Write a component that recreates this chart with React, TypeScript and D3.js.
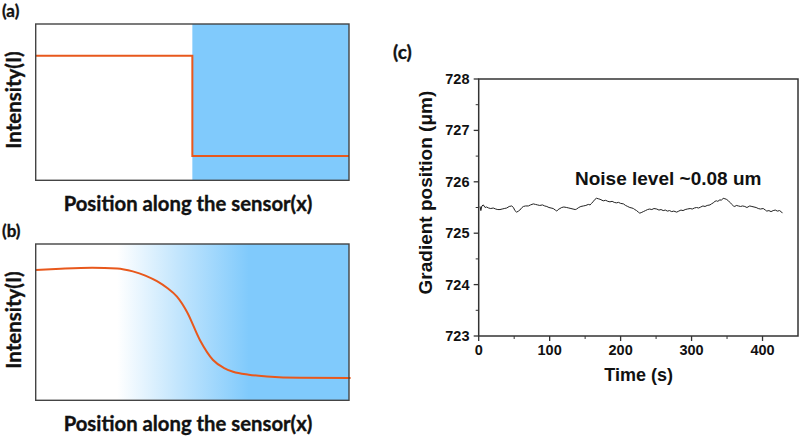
import React from "react";
import * as d3 from "d3";

// schematic panels: position 0..100 along sensor, intensity 0..100
const stepPos = [0, 50, 100];
const stepIntensity = [79.7, 15.5, 15.5];
const blueZoneA = [50, 100];

const curvePos = [0, 8, 18, 26, 31, 35, 38.7, 42, 45.1, 48.3, 52.4, 56.6, 60, 63, 68, 73.8, 84.4, 100.5];
const curveIntensity = [83.4, 84.2, 84.8, 84.4, 82.5, 79.8, 76.2, 71.8, 66.3, 56.5, 38.6, 25.8, 20.8, 18.3, 16.4, 15.3, 14.4, 14.2];
const gradientStops = [26, 68];

// panel (c) measured noise
const timeTicks = [0, 100, 200, 300, 400];
const posTicks = [723, 724, 725, 726, 727, 728];
const noiseTime = [2, 3, 4.5, 6.5, 9, 11, 14, 17, 20.5, 24, 27, 30, 33, 36, 39.5, 43, 46.5, 49, 51, 53.5, 56, 58, 61, 63, 66, 70, 73, 77, 80, 83, 86, 90, 93, 96, 99, 102, 105, 108, 110, 112, 114.5, 117, 120, 124, 127, 130, 133, 136, 138, 141, 144, 147.5, 151, 154.5, 157, 159, 161, 164, 166, 168.5, 171, 175.5, 179, 182, 185, 188, 191, 194, 197, 200, 204, 207, 210, 213, 216, 218, 220, 222.5, 225, 227, 229, 232, 235, 238, 241, 244, 247, 251, 254, 257, 260, 263, 266, 269, 272, 275, 279, 282, 285, 288, 291, 294, 298, 301, 304, 307, 310, 313, 316, 319, 322, 326, 328, 330.5, 333, 335, 337, 340, 342, 344.5, 347, 349, 352, 354, 356, 359, 361, 363, 366, 369, 372, 375, 378, 382, 385, 388, 391, 394, 397, 401, 404, 406, 409, 412, 415, 418, 421, 424, 427, 428];
const noiseValue = [725.52, 725.44, 725.53, 725.55, 725.5, 725.51, 725.49, 725.48, 725.49, 725.47, 725.46, 725.46, 725.47, 725.48, 725.49, 725.52, 725.53, 725.5, 725.44, 725.41, 725.43, 725.45, 725.5, 725.52, 725.53, 725.53, 725.55, 725.57, 725.56, 725.55, 725.54, 725.55, 725.53, 725.52, 725.5, 725.49, 725.48, 725.45, 725.43, 725.46, 725.48, 725.5, 725.51, 725.5, 725.49, 725.48, 725.47, 725.46, 725.47, 725.5, 725.52, 725.53, 725.54, 725.56, 725.55, 725.58, 725.61, 725.66, 725.68, 725.67, 725.66, 725.63, 725.64, 725.62, 725.61, 725.62, 725.6, 725.59, 725.6, 725.58, 725.57, 725.54, 725.52, 725.5, 725.49, 725.48, 725.46, 725.44, 725.41, 725.39, 725.4, 725.42, 725.44, 725.46, 725.47, 725.46, 725.48, 725.47, 725.45, 725.46, 725.44, 725.45, 725.43, 725.44, 725.42, 725.43, 725.41, 725.43, 725.45, 725.44, 725.46, 725.47, 725.48, 725.47, 725.49, 725.5, 725.49, 725.51, 725.53, 725.52, 725.54, 725.55, 725.57, 725.59, 725.62, 725.63, 725.62, 725.65, 725.64, 725.68, 725.67, 725.66, 725.63, 725.6, 725.57, 725.53, 725.52, 725.54, 725.53, 725.52, 725.53, 725.52, 725.5, 725.53, 725.52, 725.51, 725.5, 725.48, 725.47, 725.48, 725.45, 725.43, 725.44, 725.42, 725.44, 725.45, 725.43, 725.44, 725.41, 725.39];

const ORANGE = "#E8581C";
const BLUE = "#80CAFC";
const FRAME = "#444";
const calibri = "Lato, 'Open Sans', sans-serif";
const arial = "'Liberation Sans', Arial, sans-serif";

const schemX = d3.scaleLinear().domain([0, 100]).range([35.7, 349]);

function SchemPanel({ top, label, children }: { top: number; label: string; children: (y: d3.ScaleLinear<number, number>) => React.ReactNode }) {
  const y = d3.scaleLinear().domain([0, 100]).range([top + 156.3, top]);
  const [x0, x1] = schemX.range();
  const heavy = { stroke: "#111", strokeWidth: 0.35 };
  return (
    <g>
      <text x={2} y={top - 7} fontFamily={calibri} fontWeight="bold" fontSize={17} fill="#111" {...heavy}>{label}</text>
      {children(y)}
      <rect x={x0} y={top} width={x1 - x0} height={156.3} fill="none" stroke={FRAME} strokeWidth={1.4} />
      <text transform={`translate(20.5,${top + 76}) rotate(-90)`} textAnchor="middle" fontFamily={calibri} fontWeight="bold" fontSize={20.5} fill="#111" {...heavy}>Intensity(I)</text>
      <text x={188} y={top + 186.5} textAnchor="middle" fontFamily={calibri} fontWeight="bold" fontSize={20.3} fill="#111" {...heavy}>Position along the sensor(x)</text>
    </g>
  );
}

export default function App() {
  const stepData = stepPos.map((p, i) => [p, stepIntensity[i]] as [number, number]);
  const curveData = curvePos.map((p, i) => [p, curveIntensity[i]] as [number, number]);

  // panel (c)
  const cx = d3.scaleLinear().domain([0, 450]).range([478.7, 798]);
  const cy = d3.scaleLinear().domain([723, 728]).range([336, 79]);
  const noiseLine = d3.line<number>().x((_, i) => cx(noiseTime[i])).y((v) => cy(v));
  const minorX = d3.range(50, 450, 100);
  const minorY = d3.range(723.5, 728, 1);

  const gx0 = schemX(gradientStops[0]);
  const gx1 = schemX(gradientStops[1]);

  return (
    <svg width={800} height={436} style={{ position: "absolute", left: 0, top: 0, background: "#fff" }}>
      <defs>
        <linearGradient id="fade" gradientUnits="userSpaceOnUse" x1={gx0} x2={gx1} y1={0} y2={0}>
          <stop offset="0" stopColor="#fff" />
          <stop offset="0.45" stopColor="#C4E6FD" />
          <stop offset="1" stopColor={BLUE} />
        </linearGradient>
      </defs>

      <SchemPanel top={24} label="(a)">
        {(y) => {
          const line = d3.line().x((d) => schemX(d[0])).y((d) => y(d[1])).curve(d3.curveStepAfter);
          return (
            <g>
              <rect x={schemX(blueZoneA[0])} y={y(100)} width={schemX(blueZoneA[1]) - schemX(blueZoneA[0])} height={y(0) - y(100)} fill={BLUE} />
              <path d={line(stepData) || ""} fill="none" stroke={ORANGE} strokeWidth={2} />
            </g>
          );
        }}
      </SchemPanel>

      <SchemPanel top={244} label="(b)">
        {(y) => {
          const line = d3.line().x((d) => schemX(d[0])).y((d) => y(d[1])).curve(d3.curveMonotoneX);
          return (
            <g>
              <rect x={schemX(0)} y={y(100)} width={schemX(100) - schemX(0)} height={y(0) - y(100)} fill="url(#fade)" />
              <path d={line(curveData) || ""} fill="none" stroke={ORANGE} strokeWidth={2} />
            </g>
          );
        }}
      </SchemPanel>

      {/* panel (c) */}
      <text x={393} y={59} fontFamily={calibri} fontWeight="bold" fontSize={19} fill="#111" stroke="#111" strokeWidth={0.35}>(c)</text>
      <rect x={cx(0)} y={cy(728)} width={cx(450) - cx(0)} height={cy(723) - cy(728)} fill="none" stroke="#333" strokeWidth={1.5} />
      <path d={noiseLine(noiseValue) || ""} fill="none" stroke="#222" strokeWidth={1} />
      {timeTicks.map((t) => (
        <g key={t}>
          <line x1={cx(t)} x2={cx(t)} y1={cy(723)} y2={cy(723) + 5} stroke="#333" strokeWidth={1.3} />
          <text x={cx(t)} y={355} textAnchor="middle" fontFamily={arial} fontWeight="bold" fontSize={14.5} fill="#111">{t}</text>
        </g>
      ))}
      {minorX.map((t) => (
        <line key={t} x1={cx(t)} x2={cx(t)} y1={cy(723)} y2={cy(723) + 3} stroke="#333" strokeWidth={1} />
      ))}
      {posTicks.map((v) => (
        <g key={v}>
          <line x1={cx(0) - 5} x2={cx(0)} y1={cy(v)} y2={cy(v)} stroke="#333" strokeWidth={1.3} />
          <text x={469.5} y={cy(v) + 5} textAnchor="end" fontFamily={arial} fontWeight="bold" fontSize={14.5} fill="#111">{v}</text>
        </g>
      ))}
      {minorY.map((v) => (
        <line key={v} x1={cx(0) - 3} x2={cx(0)} y1={cy(v)} y2={cy(v)} stroke="#333" strokeWidth={1} />
      ))}
      <text x={638.7} y={381} textAnchor="middle" fontFamily={arial} fontWeight="bold" fontSize={18} fill="#111">Time (s)</text>
      <text transform={`translate(432,192.6) rotate(-90)`} textAnchor="middle" fontFamily={arial} fontWeight="bold" fontSize={19} fill="#111">Gradient position (μm)</text>
      <text x={575} y={184.5} fontFamily={arial} fontWeight="bold" fontSize={19} fill="#111">Noise level ~0.08 um</text>
    </svg>
  );
}
